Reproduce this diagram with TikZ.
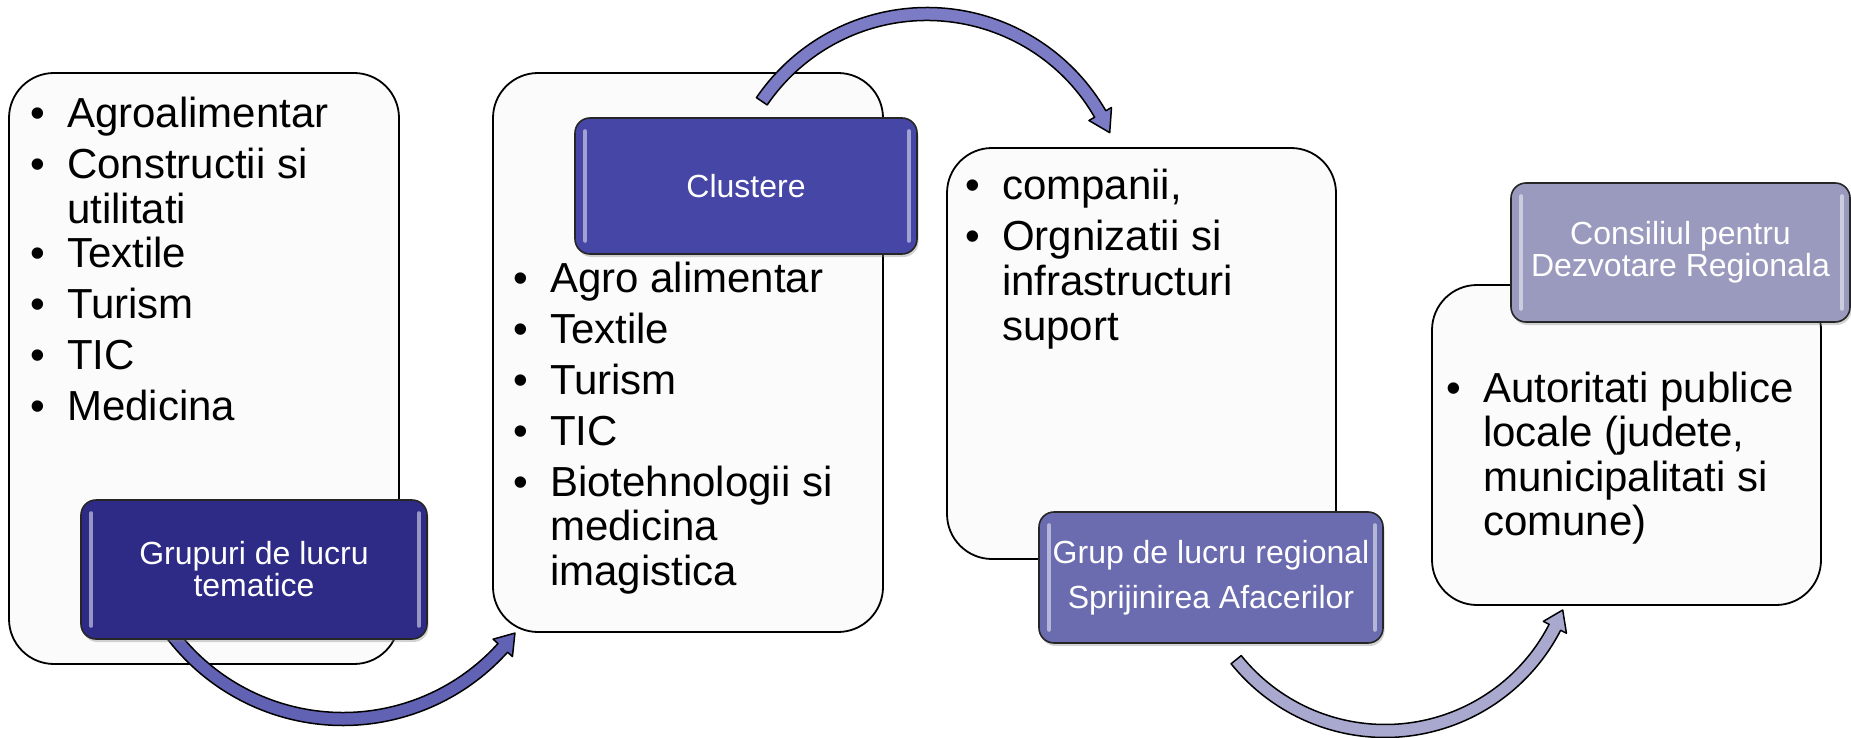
\documentclass[tikz,border=0pt]{standalone}
\usepackage{fontspec}
\setmainfont{Liberation Sans}
\usepackage{array}
\usetikzlibrary{calc,shadows}
\definecolor{boxfill}{HTML}{FBFBFB}
\definecolor{labA}{HTML}{2E2B87}
\definecolor{labB}{HTML}{4646A6}
\definecolor{labC}{HTML}{6B6BB0}
\definecolor{labD}{HTML}{9A9ABF}
\definecolor{arrA}{HTML}{6262B4}
\definecolor{arrB}{HTML}{7B7BC6}
\definecolor{arrC}{HTML}{A9A9D0}
\tikzset{
  box/.style={draw=black, line width=1.8pt, fill=boxfill, rounded corners=45pt, inner sep=0pt},
  lab/.style={draw=black!85, line width=1.6pt, rounded corners=15pt, text=white,
    font=\fontsize{32}{32}\selectfont, align=center, inner sep=0pt,
    drop shadow={shadow xshift=1.5pt, shadow yshift=-3pt, opacity=0.35}},
  btext/.style={anchor=base west, inner sep=0pt, font=\fontsize{42}{44.5}\selectfont},
  ribbon/.style={draw=black, line width=1.5pt, line join=round},
  shine/.style={white, opacity=0.5, line width=4pt, line cap=round},
}
\newcommand\blist[1]{\begin{tabular}[t]{@{}>{\raggedright}p{37pt}@{}>{\raggedright\arraybackslash}p{360pt}@{}}#1\end{tabular}}
\newcommand\ribbonarrow[6]{%
  \pgfmathsetmacro\rOut{#2+6.5}%
  \pgfmathsetmacro\rIn{#2-6.5}%
  \pgfmathsetmacro\rWo{#2+13}%
  \pgfmathsetmacro\rWi{#2-13}%
  \draw[ribbon, fill=#6] ($(#1)+(#3:\rOut)$) arc[start angle=#3, end angle=#4, radius=\rOut]
    -- ($(#1)+(#4:\rWo)$) -- ($(#1)+(#5:#2)$) -- ($(#1)+(#4:\rWi)$) -- ($(#1)+(#4:\rIn)$)
    arc[start angle=#4, end angle=#3, radius=\rIn] -- cycle;}
\newcommand\shinelab[1]{%
  \draw[shine] ($(#1.north west)+(11,14)$) -- ($(#1.south west)+(11,-14)$);
  \draw[shine] ($(#1.north east)+(-9,14)$) -- ($(#1.south east)+(-9,-14)$);}
\begin{document}
\begin{tikzpicture}[x=1pt, y=-1pt]
\useasboundingbox (0,0) rectangle (1851,738);
% boxes
\node[box, minimum width=390pt, minimum height=591pt] (b1) at (204,368.5) {};
\node[box, minimum width=390pt, minimum height=559pt] (b2) at (688,352.5) {};
\node[box, minimum width=389pt, minimum height=411pt] (b3) at (1141.5,353.5) {};
\node[box, minimum width=389pt, minimum height=320pt] (b4) at (1626.5,445) {};
% box texts
\node[btext] (t1) at (30,128) {\blist{%
•&Agroalimentar\\[6.5pt]
•&Constructii si\newline utilitati\\[6.5pt]
•&Textile\\[6.5pt]
•&Turism\\[6.5pt]
•&TIC\\[6.5pt]
•&Medicina}};
\node[btext] (t2) at (513,292) {\blist{%
•&Agro alimentar\\[6.5pt]
•&Textile\\[6.5pt]
•&Turism\\[6.5pt]
•&TIC\\[6.5pt]
•&Biotehnologii si\newline medicina\newline imagistica}};
\node[btext] (t3) at (965,200) {\blist{%
•&companii,\\[6.5pt]
•&Orgnizatii si\newline infrastructuri\newline suport}};
\node[btext] (t4) at (1446,402) {\blist{%
•&Autoritati publice\newline locale (judete,\newline municipalitati si\newline comune)}};
% arrows
\coordinate (c1) at (343,504);
\coordinate (c2) at (927,214);
\coordinate (c3) at (1385,540);
\ribbonarrow{c1}{215}{145}{42}{36.9}{arrA}
\ribbonarrow{c2}{200}{214.3}{330}{336}{arrB}
\ribbonarrow{c3}{191}{141.2}{27.2}{21.5}{arrC}
% labels
\node[lab, fill=labA, minimum width=346pt, minimum height=139pt] (l1) at (254,569.5) {Grupuri de lucru\\tematice};
\node[lab, fill=labB, minimum width=342pt, minimum height=136pt] (l2) at (746,186) {Clustere};
\node[lab, fill=labC, minimum width=344pt, minimum height=131pt] (l3) at (1211,577.5) {Grup de lucru regional\\[13pt]Sprijinirea Afacerilor};
\node[lab, fill=labD, minimum width=339pt, minimum height=139pt] (l4) at (1680.5,252.5) {Consiliul pentru\\Dezvotare Regionala};
\shinelab{l1}
\shinelab{l2}
\shinelab{l3}
\shinelab{l4}
\end{tikzpicture}
\end{document}
